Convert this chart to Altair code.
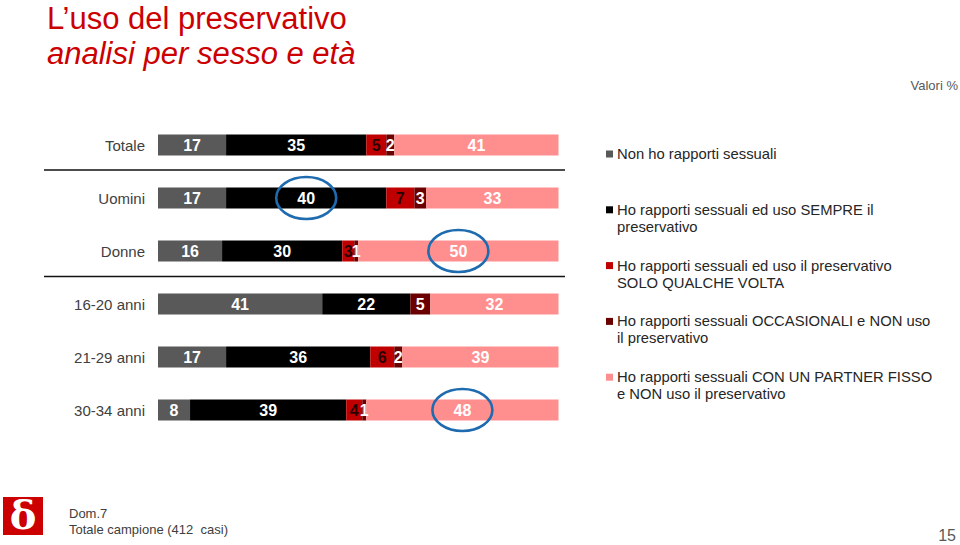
import altair as alt
import pandas as pd

# ---------------- data ----------------
rows = ["Totale", "Uomini", "Donne", "16-20 anni", "21-29 anni", "30-34 anni"]
series = [
    "Non ho rapporti sessuali",
    "Ho rapporti sessuali ed uso SEMPRE il preservativo",
    "Ho rapporti sessuali ed uso il preservativo SOLO QUALCHE VOLTA",
    "Ho rapporti sessuali OCCASIONALI e NON uso il preservativo",
    "Ho rapporti sessuali CON UN PARTNER FISSO e NON uso il preservativo",
]
legend_lines = [
    ["Non ho rapporti sessuali"],
    ["Ho rapporti sessuali ed uso SEMPRE il", "preservativo"],
    ["Ho rapporti sessuali ed uso il preservativo", "SOLO QUALCHE VOLTA"],
    ["Ho rapporti sessuali OCCASIONALI e NON uso", "il preservativo"],
    ["Ho rapporti sessuali CON UN PARTNER FISSO", "e NON uso il preservativo"],
]
non_rapporti = [17, 17, 16, 41, 17, 8]
sempre = [35, 40, 30, 22, 36, 39]
qualche_volta = [5, 7, 3, 0, 6, 4]
occasionali = [2, 3, 1, 5, 2, 1]
partner_fisso = [41, 33, 50, 32, 39, 48]
values = [non_rapporti, sempre, qualche_volta, occasionali, partner_fisso]

colors = ["#595959", "#000000", "#C00000", "#6B0000", "#FF8F8F"]
label_colors = ["#FFFFFF", "#FFFFFF", "#2A0000", "#FFFFFF", "#FFFFFF"]
highlights = [("Uomini", 1), ("Donne", 4), ("30-34 anni", 4)]

title_1 = "L\u2019uso del preservativo"
title_2 = "analisi per sesso e et\u00e0"
note_right = "Valori %"
foot_1 = "Dom.7"
foot_2 = "Totale campione (412\u00a0 casi)"
page_no = "15"

# ---------------- tables ----------------
recs = []
for ri, r in enumerate(rows):
    cum = 0
    for si, s in enumerate(series):
        v = values[si][ri]
        recs.append(dict(row=r, series=s, si=si, value=v, start=cum, end=cum + v,
                         mid=cum + v / 2, lab_color=label_colors[si]))
        cum += v
seg = pd.DataFrame(recs)
hl = pd.concat([seg[(seg.row == r) & (seg.si == i)] for r, i in highlights])

leg_sq = pd.DataFrame([dict(series=s, ly=154 + 55.8 * i) for i, s in enumerate(series)])
leg_tx = pd.DataFrame([dict(txt=t, ly=154 + 55.8 * i + 17 * j)
                       for i, lines in enumerate(legend_lines) for j, t in enumerate(lines)])

FONT = "Liberation Sans"

xsc = alt.Scale(domain=[0, 100], range=[158, 558.5])
ysc = alt.Scale(domain=rows, range=[118.5, 436.5], paddingInner=0.604, paddingOuter=0.302)
csc = alt.Scale(domain=series, range=colors)

X = lambda f: alt.X(f, type="quantitative", scale=xsc, axis=None)
Y = alt.Y("row:N", scale=ysc, axis=None, sort=rows)

bars = alt.Chart(seg).transform_filter("datum.value > 0").mark_bar(size=21).encode(
    x=X("start"), x2="end", y=Y,
    color=alt.Color("series:N", scale=csc, legend=None),
)
seg_labels = alt.Chart(seg).transform_filter("datum.value > 0").mark_text(
    font=FONT, fontSize=16, fontWeight="bold", baseline="middle", align="center", dy=1
).encode(
    x=X("mid"), y=Y, text="value:Q",
    color=alt.Color("lab_color:N", scale=None),
)
row_labels = alt.Chart(pd.DataFrame({"row": rows})).mark_text(
    font=FONT, fontSize=15, align="right", baseline="middle", color="#404040", dy=1
).encode(x=alt.value(145), y=Y, text="row:N")

ellipse_path = "M-1,0A1,0.7,0,1,1,1,0A1,0.7,0,1,1,-1,0Z"
ellipses = alt.Chart(hl).mark_point(
    shape=ellipse_path, filled=False, size=3600, stroke="#1F6BB0", strokeWidth=2.6, opacity=1
).encode(x=X("mid"), y=Y)

one = pd.DataFrame({"k": [0]})
seps = alt.layer(*[
    alt.Chart(one).mark_rule(color="#111111", strokeWidth=1.5).encode(
        x=alt.value(44), x2=alt.value(565), y=alt.value(yy))
    for yy in (170, 276.5)
])

leg_squares = alt.Chart(leg_sq).mark_square(size=49, opacity=1).encode(
    x=alt.value(609.5), y=alt.Y("ly:Q", scale=None),
    color=alt.Color("series:N", scale=csc, legend=None),
)
leg_text = alt.Chart(leg_tx).mark_text(
    font=FONT, fontSize=14.8, align="left", baseline="middle", color="#262626", dy=1
).encode(x=alt.value(617), y=alt.Y("ly:Q", scale=None), text="txt:N")


def txt(s, x, y, **kw):
    return alt.Chart(one).mark_text(font=FONT, **kw).encode(
        x=alt.value(x), y=alt.value(y), text=alt.value(s))


titles = alt.layer(
    txt(title_1, 47, 29, fontSize=31, color="#CC0000", align="left", baseline="alphabetic"),
    txt(title_2, 47, 64, fontSize=31, color="#CC0000", fontStyle="italic", align="left",
        baseline="alphabetic"),
    txt(note_right, 958, 86, fontSize=13, color="#595959", align="right", baseline="middle"),
    txt(foot_1, 69, 514, fontSize=13, color="#404040", align="left", baseline="middle"),
    txt(foot_2, 69, 530, fontSize=13, color="#404040", align="left", baseline="middle"),
    txt(page_no, 956, 536, fontSize=16, color="#595959", align="right", baseline="middle"),
)

logo_box = alt.Chart(one).mark_rect(color="#CC0000").encode(
    x=alt.value(3), x2=alt.value(43), y=alt.value(497), y2=alt.value(535))
logo_glyph = alt.Chart(one).mark_text(
    font="DejaVu Serif", fontSize=40, fontWeight="bold", color="#FFFFFF",
    align="center", baseline="middle").encode(
    x=alt.value(23), y=alt.value(517), text=alt.value("\u03b4"))

chart = alt.layer(
    seps, bars, seg_labels, row_labels, ellipses, leg_squares, leg_text, titles,
    logo_box, logo_glyph,
).properties(
    width=960, height=545, padding=0, autosize="none", background="#FFFFFF"
).configure_view(stroke=None)

chart.save("out.html", embed_options={"renderer": "svg", "actions": False})
